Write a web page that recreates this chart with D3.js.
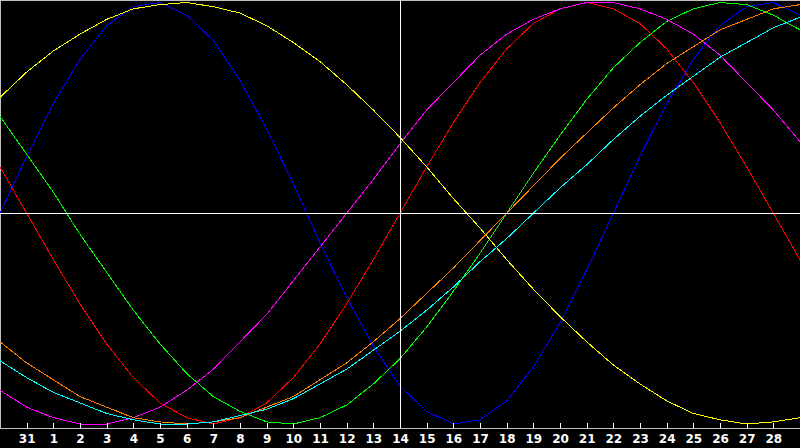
<!DOCTYPE html>
<html>
<head>
<meta charset="utf-8">
<script src="https://cdn.jsdelivr.net/npm/d3@7"></script>
<style>
html,body{margin:0;padding:0;background:#000;overflow:hidden;}
svg{display:block;}
.tick text{font-family:'DejaVu Sans',sans-serif;font-weight:bold;font-size:12px;}
</style>
</head>
<body>
<script>
// Day labels for each plotted point (index 0..30)
const days = ["30","31","1","2","3","4","5","6","7","8","9","10","11","12","13","14","15","16","17","18","19","20","21","22","23","24","25","26","27","28","29"];
// Labelled ticks
const tickLabels = days.slice(1, 30);
const today = "14";

// Series values (percent, -100..100), one per day
const physical     = [0,27,52,73,89,98,100,94,82,63,40,14,-14,-40,-63,-82,-94,-100,-98,-89,-73,-52,-27,0,27,52,73,89,98,100,94];
const emotional    = [22,0,-22,-43,-62,-78,-90,-97,-100,-97,-90,-78,-62,-43,-22,0,22,43,62,78,90,97,100,97,90,78,62,43,22,0,-22];
const intellectual = [46,28,10,-10,-28,-46,-62,-76,-87,-94,-99,-100,-97,-91,-81,-69,-54,-37,-19,0,19,37,54,69,81,91,97,100,99,94,87];
const intuitive    = [-84,-92,-97,-100,-100,-97,-92,-84,-74,-61,-48,-32,-16,0,16,33,49,62,75,85,92,97,100,100,97,92,85,75,62,49,34];
const aesthetic    = [55,67,77,85,92,97,99,100,98,95,89,81,72,61,49,36,22,7,-7,-22,-36,-49,-61,-72,-81,-89,-95,-98,-100,-99,-97];
const awareness    = [-61,-71,-79,-87,-92,-97,-99,-100,-99,-97,-92,-87,-79,-71,-61,-50,-38,-26,-13,0,13,26,38,50,61,71,79,87,92,97,99];
const spiritual    = [-70,-78,-85,-90,-95,-98,-100,-100,-99,-96,-93,-88,-81,-74,-65,-56,-46,-35,-23,-12,0,12,23,35,46,56,65,74,81,88,93];

const seriesList = [
  {name:"physical", values:physical, color:"#0000ff"},
  {name:"emotional", values:emotional, color:"#ff0000"},
  {name:"intellectual", values:intellectual, color:"#00ff00"},
  {name:"intuitive", values:intuitive, color:"#ff00ff"},
  {name:"aesthetic", values:aesthetic, color:"#ffff00"},
  {name:"awareness", values:awareness, color:"#ff8000"},
  {name:"spiritual", values:spiritual, color:"#00ffff"}
];

const W = 800, H = 448;
const svg = d3.select("body").append("svg")
  .attr("width", W).attr("height", H)
  .style("background", "#000");

const x = d3.scalePoint().domain(days).range([0, W]);
const y = d3.scaleLinear().domain([-100, 100]).range([424, 2.5]);

// frame
svg.append("rect")
  .attr("x", 0.5).attr("y", 0.5)
  .attr("width", W).attr("height", 428)
  .attr("fill", "none").attr("stroke", "#c0c0c0")
  .attr("shape-rendering", "crispEdges");

const line = d3.line()
  .x((d, i) => x(days[i]))
  .y(d => y(d));

svg.append("g").selectAll("path")
  .data(seriesList)
  .join("path")
  .attr("d", s => line(s.values))
  .attr("fill", "none")
  .attr("stroke", s => s.color)
  .attr("stroke-width", 1)
  .attr("shape-rendering", "crispEdges");

// zero line and today line
svg.append("line")
  .attr("x1", 0).attr("x2", W)
  .attr("y1", Math.round(y(0)) + 0.5).attr("y2", Math.round(y(0)) + 0.5)
  .attr("stroke", "#fff").attr("shape-rendering", "crispEdges");
svg.append("line")
  .attr("x1", Math.round(x(today)) + 0.5).attr("x2", Math.round(x(today)) + 0.5)
  .attr("y1", 0).attr("y2", 428)
  .attr("stroke", "#fff").attr("shape-rendering", "crispEdges");

// axis
const axis = d3.axisBottom(x)
  .tickValues(tickLabels)
  .tickSizeInner(-5)
  .tickSizeOuter(0)
  .tickPadding(7);

const gAxis = svg.append("g")
  .attr("transform", "translate(0,428)")
  .call(axis)
  .attr("font-size", 12)
  .attr("font-family", "'DejaVu Sans', sans-serif");
gAxis.select(".domain").attr("stroke", "#c0c0c0").attr("shape-rendering", "crispEdges");
gAxis.selectAll(".tick line").attr("stroke", "#fff").attr("shape-rendering", "crispEdges");
gAxis.selectAll(".tick text")
  .attr("fill", "#fff")
  .attr("y", 15)
  .attr("dy", 0)
  .attr("font-size", 12)
  .attr("font-weight", "bold");
</script>
</body>
</html>
